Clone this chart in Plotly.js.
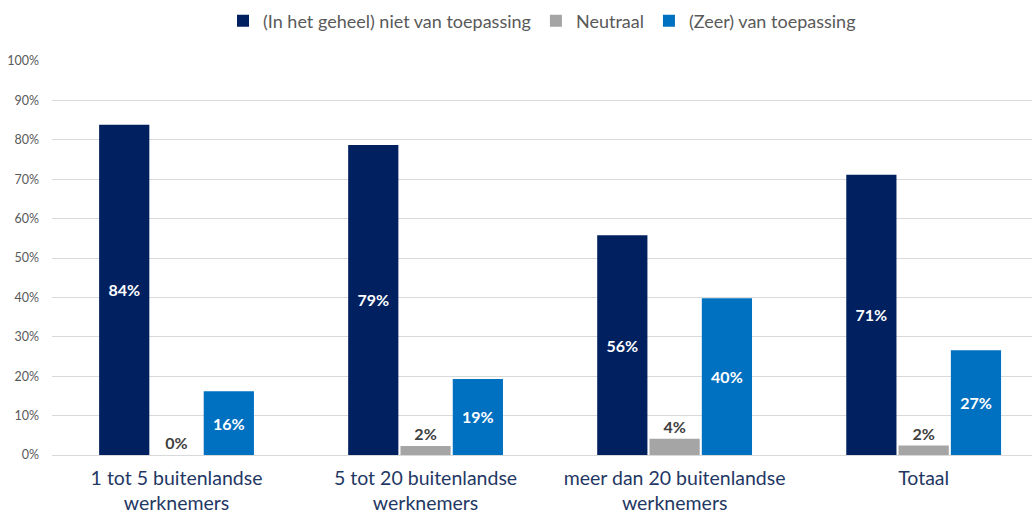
<!DOCTYPE html>
<html>
<head>
<meta charset="utf-8">
<script src="https://cdn.plot.ly/plotly-3.0.1.min.js"></script>
<style>html,body{margin:0;padding:0;background:#fff;}#chart{width:1032px;height:516px;}</style>
</head>
<body>
<div id="chart"></div>
<script>
const categories = ["1 tot 5 buitenlandse<br>werknemers", "5 tot 20 buitenlandse<br>werknemers", "meer dan 20 buitenlandse<br>werknemers", "Totaal"];
const seriesNames = ["(In het geheel) niet van toepassing", "Neutraal", "(Zeer) van toepassing"];
const nietValues = [0.838, 0.787, 0.558, 0.711];
const neutraalValues = [0.0, 0.023, 0.041, 0.024];
const zeerValues = [0.162, 0.193, 0.398, 0.266];
const yTickVals = [0, 0.1, 0.2, 0.3, 0.4, 0.5, 0.6, 0.7, 0.8, 0.9, 1.0];

const font = "Lato, 'Open Sans', sans-serif";
const traces = [
  {name: seriesNames[0], values: nietValues, color: "#002060", pos: "inside", tc: "#ffffff"},
  {name: seriesNames[1], values: neutraalValues, color: "#A5A5A5", pos: "outside", tc: "#404040"},
  {name: seriesNames[2], values: zeerValues, color: "#0070C0", pos: "inside", tc: "#ffffff"}
].map(s => ({
  type: "bar",
  name: s.name,
  x: categories,
  y: s.values,
  marker: {color: s.color},
  text: s.values.map(v => Math.round(v * 100) + "%"),
  textposition: s.pos,
  insidetextanchor: "middle",
  cliponaxis: false,
  constraintext: "none",
  textfont: {family: font, size: 16, color: s.tc, weight: "bold"},
  hoverinfo: "skip"
}));

const layout = {
  width: 1032, height: 516,
  margin: {l: 52, r: 0, t: 61, b: 61},
  paper_bgcolor: "#ffffff", plot_bgcolor: "#ffffff",
  barmode: "group",
  bargap: 0.37,
  bargroupgap: 0.04,
  showlegend: true,
  legend: {orientation: "h", x: 0.5, xanchor: "center", y: 0.995, yref: "container", yanchor: "top",
           itemwidth: 30,
           font: {family: font, size: 18, color: "#595959"}, traceorder: "normal"},
  xaxis: {
    range: [-0.5, 3.435],
    showgrid: false, showline: false, zeroline: false, ticks: "",
    ticklabelstandoff: 9,
    tickfont: {family: font, size: 19.5, color: "#1F3864"}, fixedrange: true
  },
  yaxis: {
    range: [0, 1], tickvals: yTickVals, tickformat: ".0%",
    showgrid: true, gridcolor: "#D9D9D9", gridwidth: 1,
    zeroline: true, zerolinecolor: "#D9D9D9", zerolinewidth: 1,
    showline: false, ticks: "", ticklen: 0,
    ticklabelstandoff: 12,
    tickfont: {family: font, size: 12.5, color: "#595959"}, fixedrange: true
  }
};

Plotly.newPlot("chart", traces, layout, {displayModeBar: false, staticPlot: true});
</script>
</body>
</html>
